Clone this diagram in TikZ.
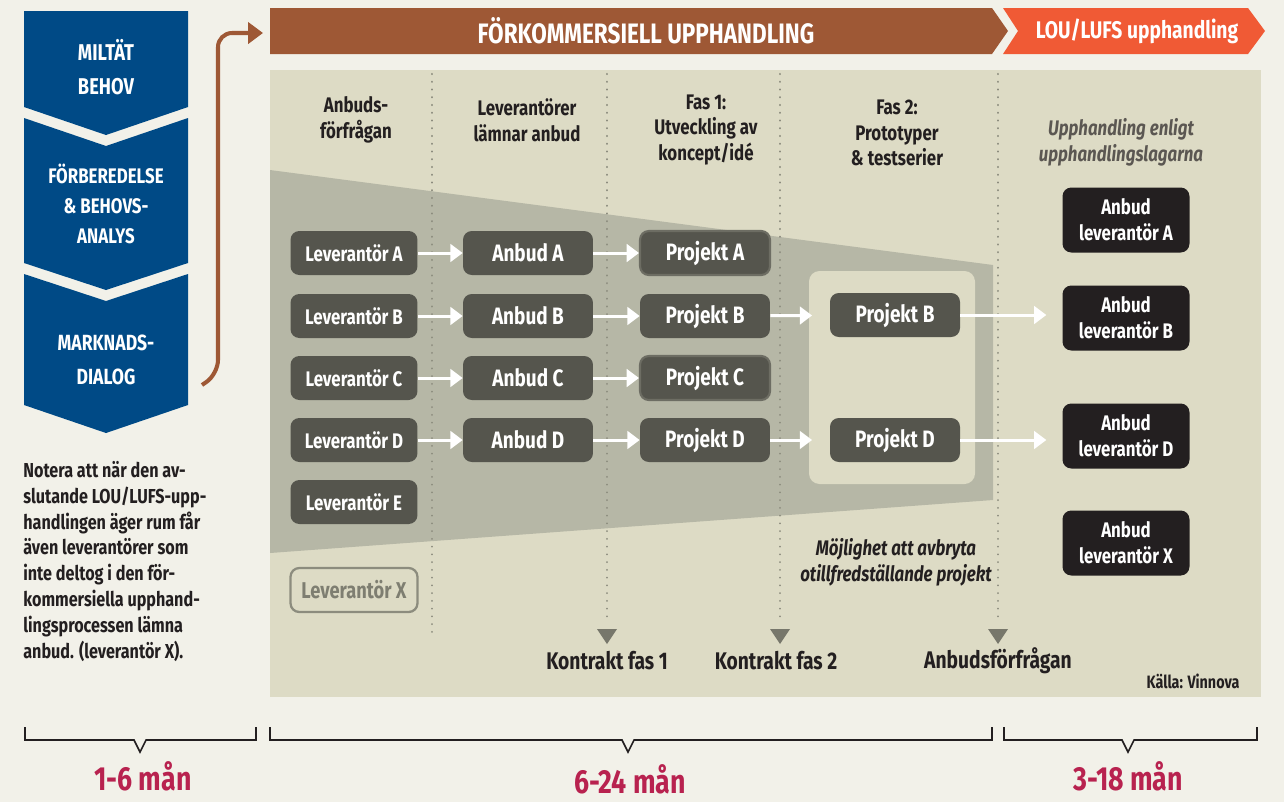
\documentclass[tikz,border=0pt]{standalone}
\usepackage{fontspec}
\setmainfont{Fira Sans}[FakeStretch=0.8]
\usetikzlibrary{positioning,arrows.meta}

\definecolor{paper}{HTML}{F2F1E9}
\definecolor{panel}{HTML}{DDDBC5}
\definecolor{funnel}{HTML}{B6B7A6}
\definecolor{navy}{HTML}{004A86}
\definecolor{rust}{HTML}{9E5835}
\definecolor{flame}{HTML}{F05A35}
\definecolor{boxgray}{HTML}{55554D}
\definecolor{ink}{HTML}{231F20}
\definecolor{dotgray}{HTML}{8C8C7E}
\definecolor{crimson}{HTML}{B8224F}

\tikzset{
  lev/.style={rectangle, rounded corners=5pt, fill=boxgray, text=white,
    font=\bfseries\fontsize{12}{14}\selectfont,
    minimum width=2.54cm, minimum height=0.88cm, inner sep=0pt},
  proj/.style={lev, minimum width=2.6cm, font=\bfseries\fontsize{13.5}{15}\selectfont},
  bid/.style={lev, fill=ink, minimum height=1.3cm, align=center,
    font=\bfseries\fontsize{12}{14.7}\selectfont},
  flow/.style={white, line width=1.7pt, -{Triangle[length=7pt,width=10pt]}},
  phase/.style={text=ink, align=center, font=\bfseries\fontsize{12}{14.7}\selectfont},
  contract/.style={phase, font=\bfseries\fontsize{13.7}{15}\selectfont},
  chev/.style={text=white, align=center},
  dots/.style={dotgray, line width=1.2pt, dash pattern=on 0.01pt off 4.4pt, line cap=round},
  span/.style={ink, line width=0.9pt},
  months/.style={text=crimson, font=\bfseries\fontsize{19}{20}\selectfont, inner sep=1pt}
}

\begin{document}
\begin{tikzpicture}[x=0.02cm, y=-0.02cm]
    % Page
    \fill[paper] (0,0) rectangle (1284,802);
    \useasboundingbox (0,0) rectangle (1284,802);

    % Blue chevrons on the left
    \fill[navy] (24,11) -- (188,11) -- (188,107) -- (106,135) -- (24,107) -- cycle;
    \fill[navy] (24,118) -- (106,146) -- (188,118) -- (188,263) -- (106,290) -- (24,263) -- cycle;
    \fill[navy] (24,274) -- (106,301) -- (188,274) -- (188,405) -- (106,433) -- (24,405) -- cycle;
    \node[chev, font=\bfseries\fontsize{13}{19}\selectfont] (behov) at (106,67) {MILTÄT\\BEHOV};
    \node[chev, font=\bfseries\fontsize{12}{17}\selectfont] (analys) at (106,204) {FÖRBEREDELSE\\\& BEHOVS-\\ANALYS};
    \node[chev, font=\bfseries\fontsize{12.5}{19}\selectfont] (dialog) at (106,360) {MARKNADS-\\DIALOG};

    % Brown arrow up to the banner
    \coordinate (up start) at (202,385);
    \coordinate (up end) at (263,33);
    \draw[rust, line width=2.3pt, rounded corners=8pt, -{Triangle[length=8.5pt,width=12pt]}]
        (up start) -- (218,374) -- (218,33) -- (up end);

    % Banners
    \fill[rust] (270,8) -- (992,8) -- (1008,31) -- (992,54) -- (270,54) -- cycle;
    \fill[flame] (1003,8) -- (1248,8) -- (1265,31) -- (1248,54) -- (1003,54) -- (1018,31) -- cycle;
    \node[text=white, font=\bfseries\fontsize{16}{18}\selectfont] (pcp) at (646,31) {FÖRKOMMERSIELL UPPHANDLING};
    \node[text=white, font=\bfseries\fontsize{13.7}{16}\selectfont] (lou) at (1137,31) {LOU/LUFS upphandling};

    % Main panel, funnel and phase 2 panel
    \fill[panel] (270,70) rectangle (1261,697);
    \fill[funnel] (270,170) -- (993,265) -- (993,500) -- (270,553) -- cycle;
    \fill[panel, rounded corners=6pt] (809,271) rectangle (975,484);

    % Dotted dividers and contract markers
    \draw[dots] (432,74) -- (432,637);
    \draw[dots] (607,74) -- (607,622);
    \draw[dots] (780,74) -- (780,622);
    \draw[dots] (998,74) -- (998,622);
    \fill[dotgray!85!black] (597,629) -- (617,629) -- (607,644) -- cycle;
    \fill[dotgray!85!black] (770,629) -- (790,629) -- (780,644) -- cycle;
    \fill[dotgray!85!black] (988,629) -- (1008,629) -- (998,644) -- cycle;
    \node[contract] (k1) at (607,661) {Kontrakt fas 1};
    \node[contract] (k2) at (776,661) {Kontrakt fas 2};
    \node[contract] (ff) at (998,661) {Anbudsförfrågan};
    \node[text=ink, font=\bfseries\fontsize{10.2}{11}\selectfont] (kalla) at (1193,681) {Källa: Vinnova};

    % Column headers
    \node[phase] (h1) at (356,120) {Anbuds-\\förfrågan};
    \node[phase] (h2) at (527,120) {Leverantörer\\lämnar anbud};
    \node[phase] (h3) at (706,130) {Fas 1:\\Utveckling av\\koncept/idé};
    \node[phase] (h4) at (897,133) {Fas 2:\\Prototyper\\\& testserier};
    \node[phase, text=ink!70!panel, font=\bfseries\itshape\fontsize{12}{14.7}\selectfont] (h5) at (1121,142) {Upphandling enligt\\upphandlingslagarna};

    % Suppliers
    \node[lev] (lA) at (354,253) {Leverantör A};
    \node[lev] (lB) at (354,316) {Leverantör B};
    \node[lev] (lC) at (354,378) {Leverantör C};
    \node[lev] (lD) at (354,440) {Leverantör D};
    \node[lev] (lE) at (354,502) {Leverantör E};
    \node[lev, fill=none, draw=dotgray, line width=1.3pt, text=dotgray!90!black,
          font=\bfseries\fontsize{13}{14}\selectfont] (lX) at (354,590) {Leverantör X};

    % Bids
    \node[proj] (aA) at (528,253) {Anbud A};
    \node[proj] (aB) at (528,316) {Anbud B};
    \node[proj] (aC) at (528,378) {Anbud C};
    \node[proj] (aD) at (528,440) {Anbud D};

    % Phase 1 projects
    \node[proj, draw=boxgray!75!funnel, line width=1.2pt] (pA) at (705,253) {Projekt A};
    \node[proj] (pB) at (705,316) {Projekt B};
    \node[proj, draw=boxgray!75!funnel, line width=1.2pt] (pC) at (705,378) {Projekt C};
    \node[proj] (pD) at (705,440) {Projekt D};

    % Phase 2 projects
    \node[proj] (qB) at (895,315) {Projekt B};
    \node[proj] (qD) at (895,440) {Projekt D};

    % Final bids
    \node[bid] (bA) at (1126,220) {Anbud\\leverantör A};
    \node[bid] (bB) at (1126,318) {Anbud\\leverantör B};
    \node[bid] (bD) at (1126,436) {Anbud\\leverantör D};
    \node[bid] (bX) at (1126,543) {Anbud\\leverantör X};

    % Arrows
    \draw[flow] (lA) -- (aA);
    \draw[flow] (lB) -- (aB);
    \draw[flow] (lC) -- (aC);
    \draw[flow] (lD) -- (aD);
    \draw[flow] (aA) -- (pA);
    \draw[flow] (aB) -- (pB);
    \draw[flow] (aC) -- (pC);
    \draw[flow] (aD) -- (pD);
    \draw[flow, shorten >=10pt] (pB) -- (qB);
    \draw[flow, shorten >=10pt] (pD) -- (qD);
    \draw[flow, shorten >=9pt] (qB) -- (qB -| bB.west);
    \draw[flow, shorten >=9pt] (qD) -- (qD -| bD.west);

    % Notes
    \node[text=ink, font=\bfseries\itshape\fontsize{12}{14.7}\selectfont, align=center] (stop) at (896,562)
        {Möjlighet att avbryta\\otillfredställande projekt};
    \node[text=ink, font=\bfseries\fontsize{11.5}{14.7}\selectfont, align=left, anchor=north west, inner sep=0pt] (note) at (23,461)
        {Notera att när den av-\\slutande LOU/LUFS-upp-\\handlingen äger rum får\\även leverantörer som\\inte deltog i den för-\\kommersiella upphand-\\lingsprocessen lämna\\anbud. (leverantör X).};

    % Time spans
    \draw[span] (25,727) -- (25,740) -- (134,740) -- (140,752) -- (146,740) -- (256,740) -- (256,727);
    \draw[span] (270,727) -- (270,740) -- (622,740) -- (628,752) -- (634,740) -- (992,740) -- (992,727);
    \draw[span] (1004,727) -- (1004,740) -- (1122,740) -- (1128,752) -- (1134,740) -- (1257,740) -- (1257,727);
    \node[months] (m1) at (143,776) {1-6 mån};
    \node[months] (m2) at (630,779) {6-24 mån};
    \node[months] (m3) at (1128,776) {3-18 mån};
\end{tikzpicture}
\end{document}
